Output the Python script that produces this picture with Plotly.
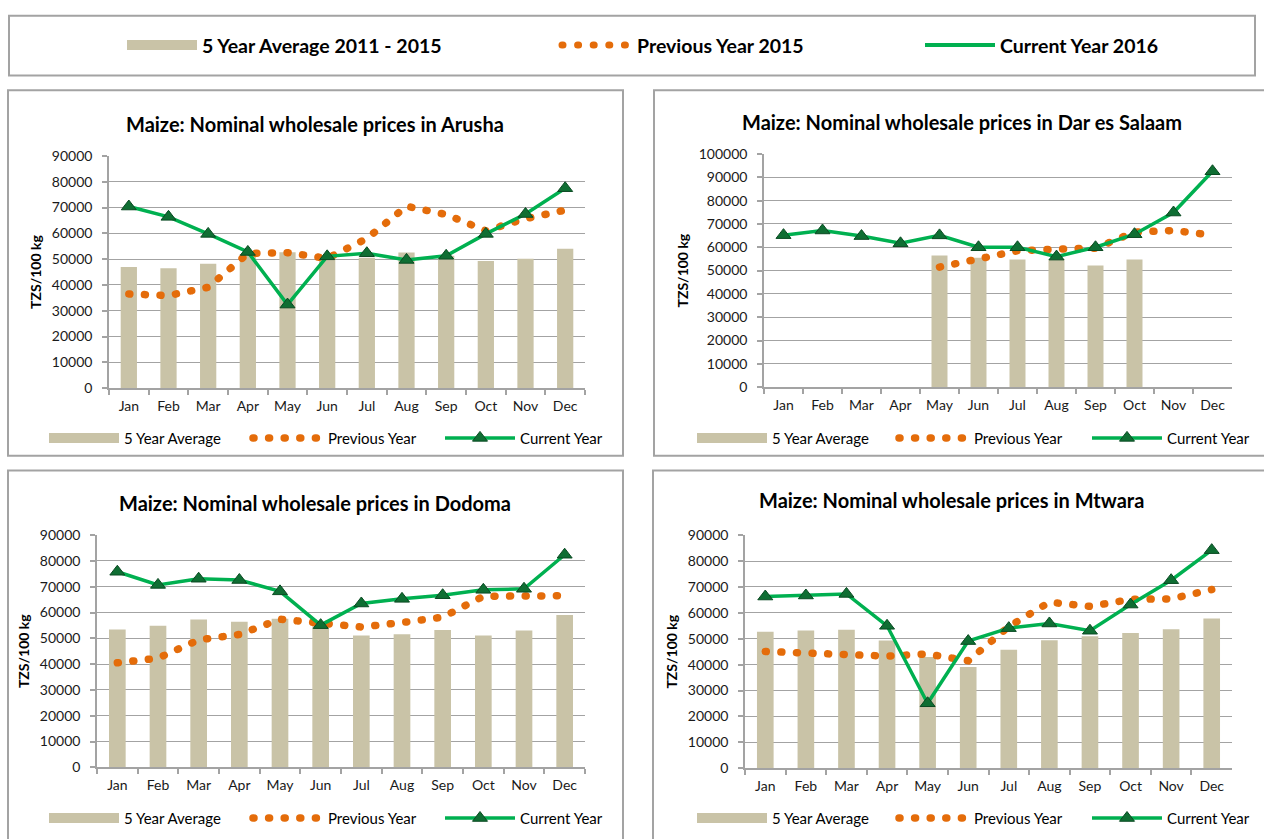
import plotly.graph_objects as go

months = ["Jan", "Feb", "Mar", "Apr", "May", "Jun", "Jul", "Aug", "Sep", "Oct", "Nov", "Dec"]

arusha_avg = [47000, 46500, 48200, 52000, 52700, 50000, 50500, 52600, 51300, 49300, 50200, 54000]
arusha_prev = [36500, 35900, 39100, 52200, 52500, 50300, 58000, 70500, 67300, 61000, 65700, 69000]
arusha_cur = [70400, 66400, 59800, 52800, 32400, 51100, 52300, 49700, 51300, 59800, 67500, 77500]

dar_avg = [None, None, None, None, 56500, 55500, 54800, 55000, 52200, 54800, None, None]
dar_prev = [None, None, None, None, 51500, 55300, 58500, 59200, 59600, 66500, 67200, 65200]
dar_cur = [65200, 67200, 64800, 61700, 65100, 60000, 60000, 56000, 60000, 65600, 74900, 92600]

dodoma_avg = [53400, 54900, 57300, 56400, 57600, 54800, 51100, 51600, 53200, 51100, 53000, 59000]
dodoma_prev = [40500, 42300, 49400, 51500, 57400, 55600, 54400, 56100, 58200, 66300, 66700, 66500]
dodoma_cur = [75800, 70700, 73100, 72600, 68200, 55100, 63500, 65300, 66700, 68800, 69200, 82400]

mtwara_avg = [52700, 53200, 53500, 49300, 43000, 39100, 45800, 49400, 51000, 52200, 53700, 57800]
mtwara_prev = [45100, 44500, 44100, 43300, 44100, 41500, 54700, 64100, 62500, 65200, 65400, 69000]
mtwara_cur = [66300, 66700, 67300, 55000, 25100, 49100, 54100, 55900, 53100, 63200, 72600, 84200]

top_names = ["5 Year Average 2011 - 2015", "Previous Year 2015", "Current Year 2016"]
panel_names = ["5 Year Average", "Previous Year", "Current Year"]
y_title = "TZS/100 kg"

W, H = 1264, 839


def fx(X):
    return X / W


def fy(Y):
    return 1 - Y / H


BAR_C = "#c9c3a7"
PREV_C = "#e46c0a"
CUR_C = "#00b050"
MARK_C = "#0f6e33"
GRID = "#a3a3a3"
FONT = "Lato"
TXT = "#1a1a1a"
DOTS = "1px,14.6px"

panels = [
    dict(city="Arusha", avg=arusha_avg, prev=arusha_prev, cur=arusha_cur, ymax=90000,
         plot=(109, 585, 150, 387), title=(315, 117), legy=438,
         leg=(124, 328, 520), frame=(8, 623, 83, 456)),
    dict(city="Dar es Salaam", avg=dar_avg, prev=dar_prev, cur=dar_cur, ymax=100000,
         plot=(764, 1232, 148, 386), title=(962, 115), legy=438,
         leg=(772, 974, 1167), frame=(654, 1275, 83, 456)),
    dict(city="Dodoma", avg=dodoma_avg, prev=dodoma_prev, cur=dodoma_cur, ymax=90000,
         plot=(97, 585, 537, 774), title=(315, 504), legy=826,
         leg=(124, 328, 520), frame=(8, 623, 471, 860)),
    dict(city="Mtwara", avg=mtwara_avg, prev=mtwara_prev, cur=mtwara_cur, ymax=90000,
         plot=(745, 1232, 537, 775), title=(951, 501), legy=826,
         leg=(772, 974, 1167), frame=(653, 1275, 471, 860)),
]

fig = go.Figure()
layout = dict(
    width=W, height=H, margin=dict(l=0, r=0, t=0, b=0),
    paper_bgcolor="white", plot_bgcolor="white",
    font=dict(family=FONT, color=TXT, size=14),
    bargap=0.59, showlegend=True,
    annotations=[], shapes=[],
)

ITEMW = 70
legend_count = 0


def new_legend(X_text, Y, size, bold=False):
    global legend_count
    legend_count += 1
    lid = "legend" if legend_count == 1 else f"legend{legend_count}"
    layout[lid] = dict(
        x=fx(X_text - ITEMW - 10), xanchor="left", y=fy(Y), yanchor="middle",
        orientation="h", bgcolor="rgba(0,0,0,0)", itemwidth=ITEMW,
        font=dict(family=FONT, size=size, color="#000000", weight="bold" if bold else "normal"),
        itemclick=False, itemdoubleclick=False,
    )
    return lid


# top legend (legend-only entries)
top_x = [202, 637, 1000]
top_styles = [dict(color=BAR_C, width=10), dict(color=PREV_C, width=7, dash=DOTS),
              dict(color=CUR_C, width=4)]
for k in range(3):
    lid = new_legend(top_x[k], 37, 19.5, bold=True)
    fig.add_trace(go.Scatter(x=[None], y=[None], name=top_names[k], mode="lines",
                             line=top_styles[k], legend=lid, xaxis="x", yaxis="y",
                             hoverinfo="skip"))

layout["shapes"].append(dict(type="rect", xref="paper", yref="paper",
                             x0=fx(9), x1=fx(1255), y0=fy(68), y1=fy(7),
                             line=dict(color=GRID, width=2), layer="below"))

for i, p in enumerate(panels, start=1):
    xa = "x" if i == 1 else f"x{i}"
    ya = "y" if i == 1 else f"y{i}"
    x0, x1, y0, y1 = p["plot"]
    layout["xaxis" if i == 1 else f"xaxis{i}"] = dict(
        domain=[fx(x0), fx(x1)], anchor=ya, type="category",
        categoryorder="array", categoryarray=months, range=[-0.5, 11.5],
        showline=True, linecolor=GRID, linewidth=1.5, tickangle=0,
        ticks="outside", tickson="boundaries", ticklen=5, tickcolor=GRID, tickwidth=1.5,
        tickfont=dict(size=14, color=TXT), ticklabelstandoff=4,
        showgrid=False, fixedrange=True,
    )
    layout["yaxis" if i == 1 else f"yaxis{i}"] = dict(
        domain=[fy(y1), fy(y0)], anchor=xa, range=[0, p["ymax"]], dtick=10000,
        tickformat="d", showgrid=True, gridcolor=GRID, gridwidth=1.4, zeroline=False,
        showline=True, linecolor=GRID, linewidth=1.5, ticks="outside", ticklen=5,
        tickcolor=GRID, tickwidth=1.5, tickfont=dict(size=14, color=TXT), ticklabelstandoff=7,
        title=dict(text=y_title, font=dict(size=14, color="#000000", weight="bold"), standoff=7),
        fixedrange=True,
    )
    lx = p["leg"]
    l1 = new_legend(lx[0], p["legy"], 15)
    l2 = new_legend(lx[1], p["legy"], 15)
    l3 = new_legend(lx[2], p["legy"], 15)
    fig.add_trace(go.Bar(x=months, y=p["avg"], name=panel_names[0], marker_color=BAR_C,
                         marker_line_width=0, showlegend=False, xaxis=xa, yaxis=ya))
    # legend entry drawn as a wide swatch, as in the original
    fig.add_trace(go.Scatter(x=[None], y=[None], name=panel_names[0], mode="lines",
                             line=dict(color=BAR_C, width=10), legend=l1, xaxis=xa, yaxis=ya,
                             hoverinfo="skip"))
    fig.add_trace(go.Scatter(x=months, y=p["prev"], name=panel_names[1], mode="lines",
                             line=dict(color=PREV_C, width=7.5, dash=DOTS),
                             connectgaps=False, legend=l2, xaxis=xa, yaxis=ya))
    fig.add_trace(go.Scatter(x=months, y=p["cur"], name=panel_names[2], mode="lines+markers",
                             line=dict(color=CUR_C, width=3.5),
                             marker=dict(symbol="triangle-up", size=13, color=MARK_C,
                                         line=dict(color="#0a4a22", width=1)),
                             legend=l3, xaxis=xa, yaxis=ya))
    tx, ty = p["title"]
    layout["annotations"].append(dict(
        text=f"<b>Maize: Nominal wholesale prices in {p['city']}</b>", x=fx(tx), y=fy(ty),
        xref="paper", yref="paper", xanchor="center", yanchor="middle", showarrow=False,
        font=dict(size=20, color="#000000", family=FONT)))
    fr = p["frame"]
    layout["shapes"].append(dict(type="rect", xref="paper", yref="paper",
                                 x0=fx(fr[0]), x1=fx(fr[1]), y0=fy(fr[3]), y1=fy(fr[2]),
                                 line=dict(color=GRID, width=2), layer="below"))

fig.update_layout(**layout)

page_setup = (
    "document.body.style.margin='0';"
    "document.body.style.overflow='hidden';"
    "var s=document.createElement('style');"
    "s.innerHTML='path[style*=\"14.6px\"]{stroke-linecap:round !important;}';"
    "document.head.appendChild(s);"
)
fig.write_html("out.html", post_script=page_setup, config={"displayModeBar": False})
